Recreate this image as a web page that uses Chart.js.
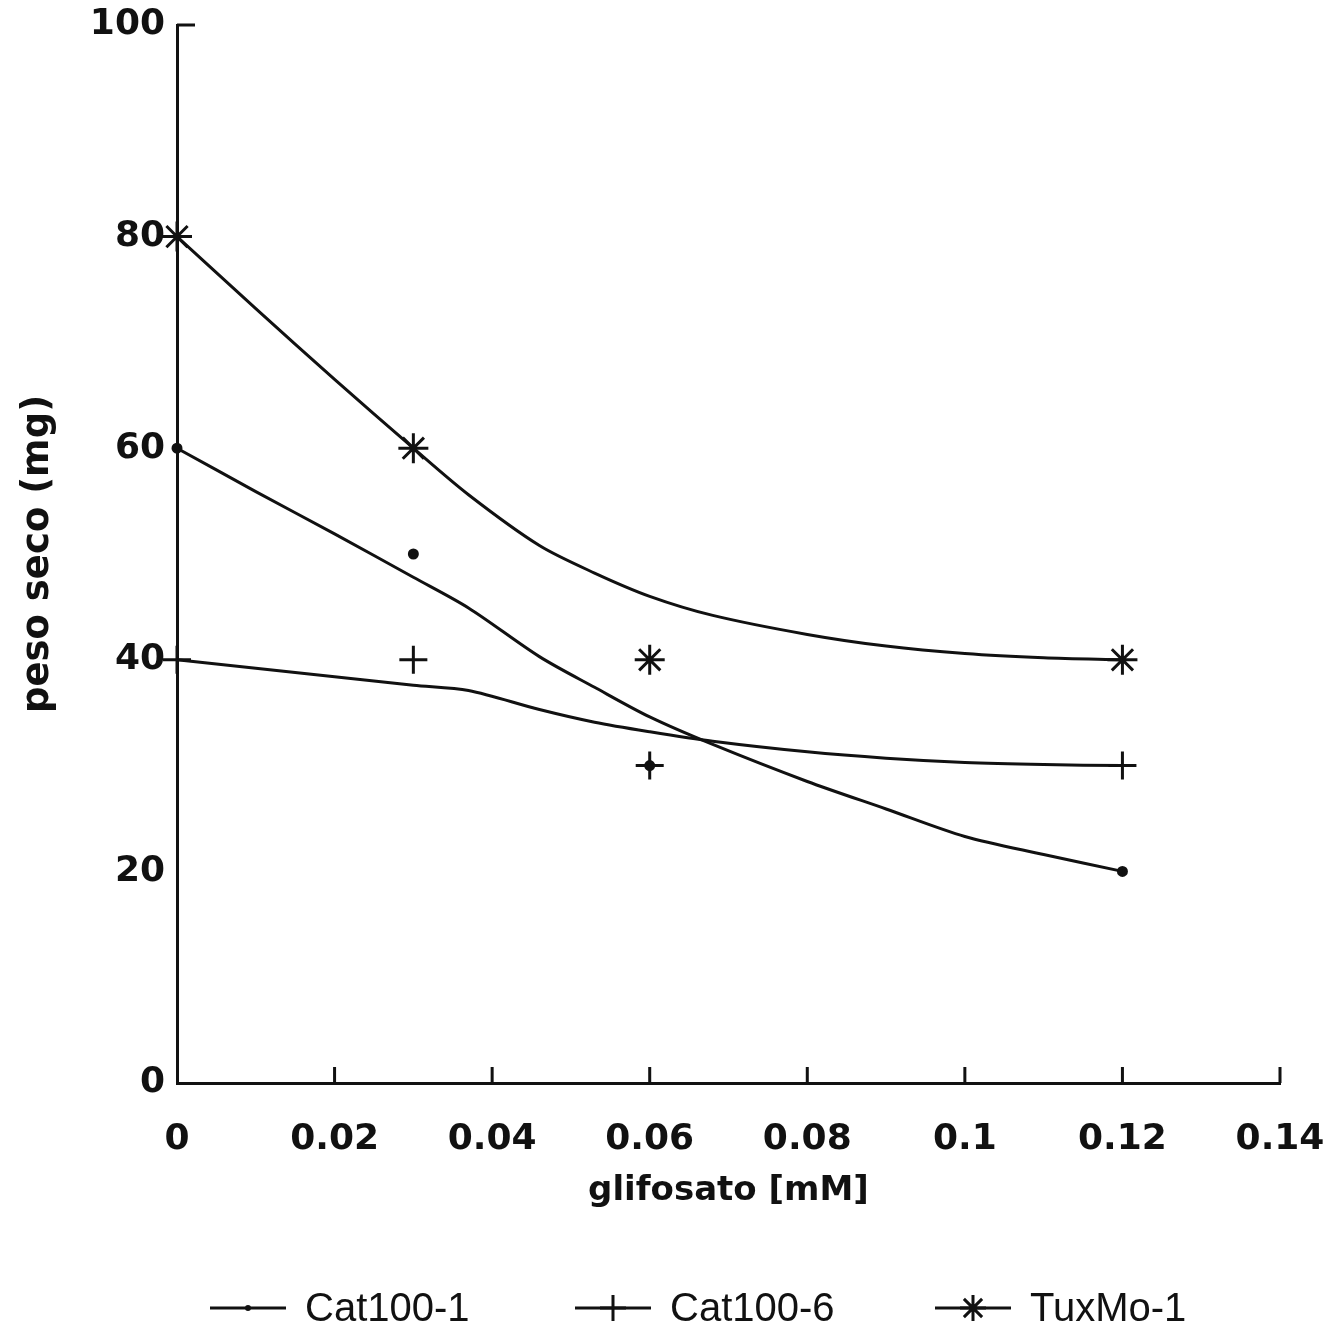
<!DOCTYPE html>
<html>
<head>
<meta charset="utf-8">
<script src="https://cdn.jsdelivr.net/npm/chart.js@4.4.0/dist/chart.umd.min.js"></script>
<style>
  body { margin: 0; background: #fff; }
  canvas { display: block; }
</style>
</head>
<body>
<canvas id="pesoChart" width="1330" height="1332"></canvas>
<script>
// measured points
const doses = [0, 0.03, 0.06, 0.12];
const cat1Points = [60, 50, 30, 20];
const cat6Points = [40, 40, 30, 30];
const tuxPoints = [80, 60, 40, 40];

// fitted curves
const curveX = [0, 0.01, 0.02, 0.03, 0.037, 0.046, 0.053, 0.06, 0.068, 0.08, 0.09, 0.1, 0.11, 0.12];
const cat1Curve = [60, 55.9, 51.9, 47.8, 44.9, 40.3, 37.4, 34.6, 32.0, 28.5, 25.9, 23.3, 21.6, 20];
const cat6Curve = [40, 39.2, 38.4, 37.6, 37.1, 35.3, 34.1, 33.2, 32.3, 31.3, 30.7, 30.3, 30.1, 30];
const tuxCurve = [80, 73.2, 66.5, 60, 55.6, 50.8, 48.2, 46.0, 44.2, 42.4, 41.3, 40.6, 40.2, 40];

const seriesNames = ['Cat100-1', 'Cat100-6', 'TuxMo-1'];
const xTickLabels = ['0', '0.02', '0.04', '0.06', '0.08', '0.1', '0.12', '0.14'];
const yTickLabels = ['0', '20', '40', '60', '80', '100'];

const ink = '#111';

function toXY(xs, ys) {
  return xs.map((x, i) => ({ x: x, y: ys[i] }));
}

function curveSet(ys) {
  return {
    data: toXY(curveX, ys),
    showLine: true,
    borderColor: ink,
    borderWidth: 3,
    pointRadius: 0,
    tension: 0.3,
    fill: false,
    clip: false,
  };
}

function pointSet(label, ys, style, radius) {
  return {
    label: label,
    data: toXY(doses, ys),
    showLine: false,
    pointStyle: style,
    pointRadius: radius,
    pointBorderWidth: 3,
    pointBorderColor: ink,
    pointBackgroundColor: ink,
    clip: false,
  };
}

function drawMark(ctx, style, x, y, r) {
  ctx.beginPath();
  if (style === 'circle') {
    ctx.arc(x, y, r, 0, Math.PI * 2);
    ctx.fill();
    return;
  }
  ctx.moveTo(x - r, y); ctx.lineTo(x + r, y);
  ctx.moveTo(x, y - r); ctx.lineTo(x, y + r);
  if (style === 'star') {
    const d = r * 0.7;
    ctx.moveTo(x - d, y - d); ctx.lineTo(x + d, y + d);
    ctx.moveTo(x - d, y + d); ctx.lineTo(x + d, y - d);
  }
  ctx.stroke();
}

// axis decorations: inward x ticks, top stub on y axis
const axisMarks = {
  id: 'axisMarks',
  afterDraw(chart) {
    const ctx = chart.ctx;
    const xs = chart.scales.x;
    const ys = chart.scales.y;
    ctx.save();
    ctx.strokeStyle = ink;
    ctx.lineWidth = 3;
    ctx.beginPath();
    xs.ticks.forEach((t) => {
      if (t.value === 0) return;
      const px = xs.getPixelForValue(t.value);
      ctx.moveTo(px, ys.bottom);
      ctx.lineTo(px, ys.bottom - 16);
    });
    const topPx = ys.getPixelForValue(100);
    ctx.moveTo(xs.left, topPx);
    ctx.lineTo(xs.left + 18, topPx);
    ctx.stroke();
    ctx.restore();
  },
};

// legend: line sample with marker, then name
const lineLegend = {
  id: 'lineLegend',
  afterDraw(chart) {
    const ctx = chart.ctx;
    const starts = [210, 575, 935];
    const y = 1308;
    ctx.save();
    ctx.strokeStyle = ink;
    ctx.fillStyle = ink;
    ctx.lineWidth = 3;
    ctx.font = '40px "Liberation Sans", Arial, sans-serif';
    ctx.textBaseline = 'middle';
    chart.data.datasets.filter((d) => d.label).forEach((d, i) => {
      const x0 = starts[i];
      ctx.beginPath();
      ctx.moveTo(x0, y);
      ctx.lineTo(x0 + 76, y);
      ctx.stroke();
      const r = d.pointStyle === 'circle' ? 3 : 13;
      drawMark(ctx, d.pointStyle, x0 + 38, y, r);
      ctx.fillText(d.label, x0 + 95, y + 2);
    });
    ctx.restore();
  },
};

const tickFont = { family: '"DejaVu Sans", sans-serif', size: 36, weight: 'bold' };
const titleFont = { family: '"DejaVu Sans", sans-serif', size: 34, weight: 'bold' };

new Chart(document.getElementById('pesoChart').getContext('2d'), {
  type: 'scatter',
  data: {
    datasets: [
      curveSet(cat1Curve),
      curveSet(cat6Curve),
      curveSet(tuxCurve),
      pointSet(seriesNames[0], cat1Points, 'circle', 4),
      pointSet(seriesNames[1], cat6Points, 'cross', 14),
      pointSet(seriesNames[2], tuxPoints, 'star', 15),
    ],
  },
  options: {
    responsive: false,
    animation: false,
    events: [],
    layout: {
      padding: { left: 0, right: 50, top: 25, bottom: 120 },
    },
    plugins: {
      legend: { display: false },
      tooltip: { enabled: false },
    },
    scales: {
      x: {
        type: 'linear',
        min: 0,
        max: 0.14,
        grid: { display: false, drawTicks: false },
        border: { display: true, color: ink, width: 3 },
        ticks: {
          stepSize: 0.02,
          color: ink,
          font: tickFont,
          padding: 35,
          maxRotation: 0,
          callback(value, index) {
            return xTickLabels[index];
          },
        },
        title: {
          display: true,
          text: 'glifosato [mM]',
          color: ink,
          font: titleFont,
          padding: { top: 0, bottom: 0 },
        },
        afterFit(scale) {
          scale.height = 129;
          scale.paddingLeft = 0;
          scale.paddingRight = 0;
        },
      },
      y: {
        type: 'linear',
        min: 0,
        max: 100,
        grid: { display: false, drawTicks: false },
        border: { display: true, color: ink, width: 3 },
        ticks: {
          stepSize: 20,
          color: ink,
          font: tickFont,
          padding: 12,
          callback(value, index) {
            return yTickLabels[index];
          },
        },
        title: {
          display: true,
          text: 'peso seco (mg)',
          color: ink,
          font: { family: '"DejaVu Sans", sans-serif', size: 37, weight: 'bold' },
          padding: { top: 16, bottom: 0 },
        },
        afterFit(scale) {
          scale.width = 177;
          scale.paddingTop = 0;
          scale.paddingBottom = 0;
        },
      },
    },
  },
  plugins: [axisMarks, lineLegend],
});
</script>
</body>
</html>
